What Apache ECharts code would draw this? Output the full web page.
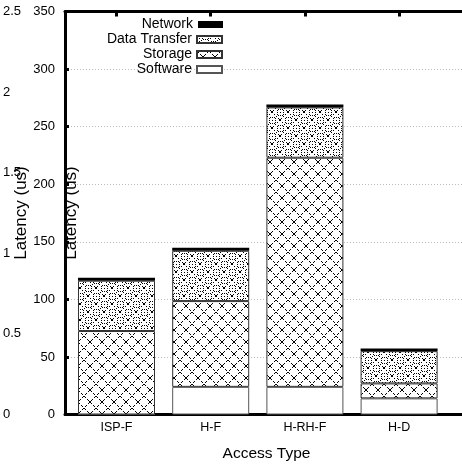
<!DOCTYPE html>
<html>
<head>
<meta charset="utf-8">
<script src="https://cdn.jsdelivr.net/npm/echarts@6/dist/echarts.min.js"></script>
<style>html,body{margin:0;padding:0;background:#fff}#c{width:462px;height:465px}</style>
</head>
<body>
<div id="c"></div>
<script>
const categories = ['ISP-F', 'H-F', 'H-RH-F', 'H-D'];
const software = [0, 24, 24, 14];
const storage = [72.5, 74.5, 199, 13];
const dataTransfer = [43.7, 43.7, 43.7, 28];
const network = [2.6, 2.6, 2.6, 2.3];

const FONT = '"Liberation Sans", Arial, Helvetica, sans-serif';

function px(g, x, y, s) { g.fillRect(x, y, s || 1, s || 1); }

function storagePattern() {
  const n = 12;
  const c = document.createElement('canvas'); c.width = n; c.height = n;
  const g = c.getContext('2d');
  g.fillStyle = '#fff'; g.fillRect(0, 0, n, n);
  g.fillStyle = '#000';
  for (let i = 0; i < n; i++) {
    if (i % 3 !== 2) { px(g, i, i); px(g, n - 1 - i, i); }
  }
  px(g, 5, 5, 2);
  return c;
}
function transferPattern() {
  const n = 16;
  const c = document.createElement('canvas'); c.width = n; c.height = n;
  const g = c.getContext('2d');
  g.fillStyle = '#fff'; g.fillRect(0, 0, n, n);
  g.fillStyle = '#000';
  for (let i = 0; i < n; i += 2) { px(g, i, i); px(g, n - 1 - i, i); }
  px(g, 7, 7, 2); px(g, 0, 0); px(g, 15, 15); px(g, 15, 0); px(g, 0, 15);
  const centers = [[8, 0], [8, 16], [0, 8], [16, 8]];
  centers.forEach(([cx, cy]) => {
    for (let a = 0; a < 12; a++) {
      const t = a / 12 * Math.PI * 2;
      px(g, Math.round(cx + 3.2 * Math.cos(t)), Math.round(cy + 3.2 * Math.sin(t)));
    }
    px(g, cx, cy);
  });
  return c;
}

const storageColor = { image: storagePattern(), repeat: 'repeat' };
const transferColor = { image: transferPattern(), repeat: 'repeat' };

const chart = echarts.init(document.getElementById('c'), null, { renderer: 'canvas' });

function legendFor(name, center) {
  return {
    data: [{ name: name }],
    right: 239, top: center - 7, orient: 'vertical', align: 'right',
    padding: 0, itemWidth: 25, itemHeight: 7, icon: 'rect',
    textStyle: { fontFamily: FONT, fontSize: 14, color: '#000', lineHeight: 14 },
    selectedMode: false
  };
}

const option = {
  backgroundColor: '#fff',
  animation: false,
  textStyle: { fontFamily: FONT },
  grid: [
    { left: 65, right: 0, top: 11.5, bottom: 50.5, containLabel: false, outerBoundsMode: 'none' },
    { left: 69.4, right: 15.8, top: 11.5, bottom: 50.5, containLabel: false, outerBoundsMode: 'none' }
  ],
  legend: [
    legendFor('Network', 24.5),
    legendFor('Data Transfer', 39.5),
    legendFor('Storage', 54.5),
    legendFor('Software', 69.5)
  ],
  xAxis: [
    { // frame bottom
      gridIndex: 0, type: 'value', position: 'bottom', min: 0, max: 1,
      axisLine: { show: true, onZero: false, lineStyle: { color: '#000', width: 3 } },
      axisTick: { show: false }, splitLine: { show: false }, axisLabel: { show: false },
      name: 'Access Type', nameLocation: 'middle', nameGap: 31, nameMoveOverlap: false,
      nameTextStyle: { color: '#000', fontSize: 15.5, fontFamily: FONT, padding: [0, 0, 0, 6] }
    },
    { // frame top
      gridIndex: 0, type: 'value', position: 'top', min: 0, max: 1,
      axisLine: { show: true, onZero: false, lineStyle: { color: '#000', width: 3 } },
      axisTick: { show: false }, splitLine: { show: false }, axisLabel: { show: false }
    },
    { // categories bottom
      gridIndex: 1, type: 'category', position: 'bottom', data: categories,
      axisLine: { show: false, onZero: false }, axisTick: { show: false },
      axisLabel: { color: '#000', fontSize: 12.5, fontFamily: FONT, margin: 7 }
    },
    { // category ticks on top
      gridIndex: 1, type: 'category', position: 'top', data: categories,
      axisLine: { show: false, onZero: false },
      axisTick: { show: true, inside: true, alignWithLabel: true, length: 5, lineStyle: { color: '#000', width: 3 } },
      axisLabel: { show: false }
    }
  ],
  yAxis: [
    {
      gridIndex: 0, type: 'value', position: 'left', min: 0, max: 350, interval: 50,
      axisLine: { show: true, onZero: false, lineStyle: { color: '#000', width: 3 } },
      axisTick: { show: true, inside: true, length: 4, lineStyle: { color: '#000', width: 3 } },
      axisLabel: { color: '#000', fontSize: 13, fontFamily: FONT, margin: 10 },
      splitLine: { show: true, lineStyle: { color: '#bbb', width: 1, type: [1, 2] } },
      name: 'Latency (us)', nameLocation: 'middle', nameGap: -15, nameRotate: 90, nameMoveOverlap: false,
      nameTextStyle: { color: '#000', fontSize: 17, fontFamily: FONT }
    },
    {
      gridIndex: 0, type: 'value', position: 'left', offset: 0, min: 0, max: 2.5, interval: 0.5,
      axisLine: { show: false, onZero: false }, axisTick: { show: false }, splitLine: { show: false },
      axisLabel: { color: '#000', fontSize: 13, fontFamily: FONT, align: 'left', margin: 62 },
      name: 'Latency (us)', nameLocation: 'middle', nameGap: 35, nameRotate: 90, nameMoveOverlap: false,
      nameTextStyle: { color: '#000', fontSize: 17, fontFamily: FONT }
    },
    {
      gridIndex: 1, type: 'value', min: 0, max: 350, interval: 50, show: false
    }
  ],
  series: [
    {
      name: 'Software', type: 'bar', stack: 'total', xAxisIndex: 2, yAxisIndex: 2,
      barWidth: 77, data: software,
      itemStyle: { color: '#fff', borderColor: '#555', borderWidth: 1 }
    },
    {
      name: 'Storage', type: 'bar', stack: 'total', xAxisIndex: 2, yAxisIndex: 2,
      barWidth: 77, data: storage,
      itemStyle: { color: storageColor, borderColor: '#333', borderWidth: 1 }
    },
    {
      name: 'Data Transfer', type: 'bar', stack: 'total', xAxisIndex: 2, yAxisIndex: 2,
      barWidth: 77, data: dataTransfer,
      itemStyle: { color: transferColor, borderColor: '#333', borderWidth: 1 }
    },
    {
      name: 'Network', type: 'bar', stack: 'total', xAxisIndex: 2, yAxisIndex: 2,
      barWidth: 77, data: network,
      itemStyle: { color: '#000', borderColor: '#000', borderWidth: 0 }
    }
  ]
};
chart.setOption(option);
</script>
</body>
</html>
